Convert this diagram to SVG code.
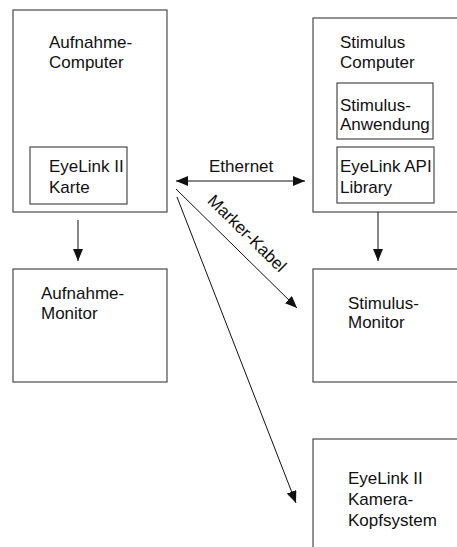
<svg xmlns="http://www.w3.org/2000/svg" width="457" height="547" viewBox="0 0 457 547">
<defs>
<style>
.box{fill:none;stroke:#4a4a4a;stroke-width:1.2}
.t{font-family:"Liberation Sans",Arial,sans-serif;font-size:17px;fill:#111}
.c{stroke:#111;stroke-width:1;fill:none}
</style>
<marker id="ah" viewBox="0 0 12 10" refX="12" refY="5" markerWidth="12" markerHeight="10" markerUnits="userSpaceOnUse" orient="auto-start-reverse">
<path d="M0,0 L12,5 L0,10 z" fill="#111"/>
</marker>
</defs>
<rect width="457" height="547" fill="#fff"/>
<g id="aufnahme-computer">
<rect class="box" x="13" y="10" width="154" height="202"/>
<text class="t" x="49" y="48">Aufnahme-</text>
<text class="t" x="49" y="68">Computer</text>
</g>
<g id="eyelink-karte">
<rect class="box" x="30" y="147" width="97" height="57"/>
<text class="t" x="49" y="172">EyeLink II</text>
<text class="t" x="49" y="193">Karte</text>
</g>
<g id="stimulus-computer">
<rect class="box" x="313" y="18" width="150" height="194"/>
<text class="t" x="340" y="48">Stimulus</text>
<text class="t" x="340" y="68">Computer</text>
</g>
<g id="stimulus-anwendung">
<rect class="box" x="337" y="83" width="96" height="56"/>
<text class="t" x="340" y="111">Stimulus-</text>
<text class="t" x="340" y="130">Anwendung</text>
</g>
<g id="eyelink-api">
<rect class="box" x="337" y="147" width="97" height="56"/>
<text class="t" x="340" y="172">EyeLink API</text>
<text class="t" x="340" y="193">Library</text>
</g>
<g id="aufnahme-monitor">
<rect class="box" x="13" y="269" width="154" height="113"/>
<text class="t" x="41" y="299">Aufnahme-</text>
<text class="t" x="41" y="319">Monitor</text>
</g>
<g id="stimulus-monitor">
<rect class="box" x="313" y="269" width="150" height="113"/>
<text class="t" x="348" y="309">Stimulus-</text>
<text class="t" x="348" y="328">Monitor</text>
</g>
<g id="kamera">
<rect class="box" x="313" y="439" width="150" height="120"/>
<text class="t" x="348" y="484">EyeLink II</text>
<text class="t" x="348" y="505">Kamera-</text>
<text class="t" x="348" y="526">Kopfsystem</text>
</g>
<g id="connectors">
<line class="c" x1="176" y1="181" x2="305" y2="181" marker-start="url(#ah)" marker-end="url(#ah)"/>
<text class="t" x="209" y="172">Ethernet</text>
<line class="c" x1="78" y1="220" x2="78" y2="261" marker-end="url(#ah)"/>
<line class="c" x1="378" y1="212" x2="378" y2="261" marker-end="url(#ah)"/>
<line class="c" x1="176" y1="189" x2="297" y2="308" marker-end="url(#ah)"/>
<text class="t" text-anchor="middle" transform="translate(243,237.5) rotate(44.5)">Marker-Kabel</text>
<line class="c" x1="177" y1="197" x2="296" y2="503" marker-end="url(#ah)"/>
</g>
</svg>
